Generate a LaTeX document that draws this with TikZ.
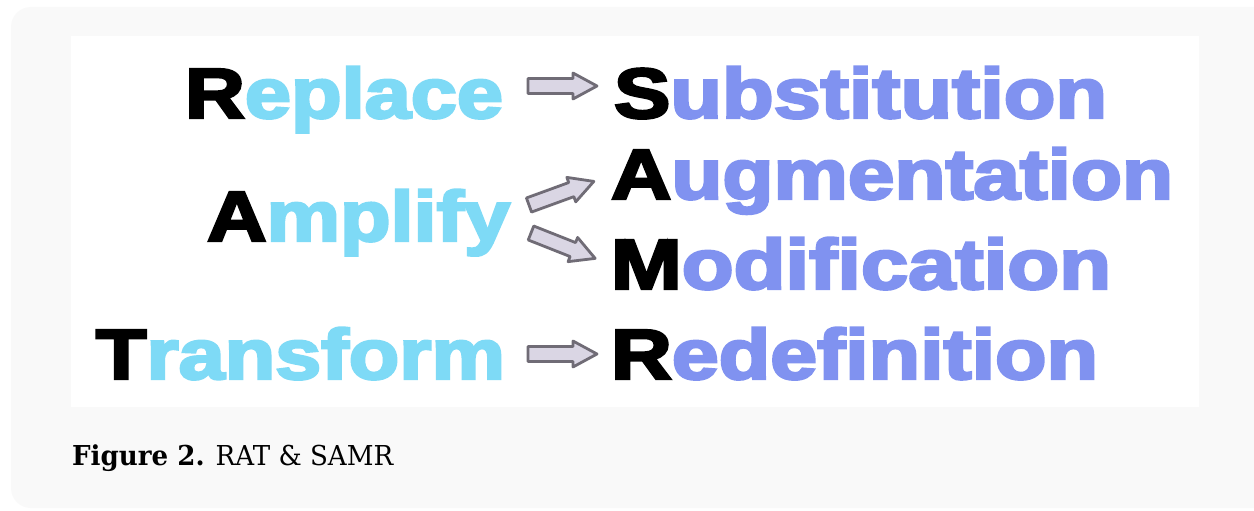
\documentclass[tikz,border=0pt]{standalone}
\usepackage{fontspec}
\usepackage{graphicx}
\newfontfamily\heavy{Liberation Sans}[BoldFeatures={FakeBold=3.5}]
\newfontfamily\capfont{DejaVu Serif}
\definecolor{ratcyan}{RGB}{126,218,246}
\definecolor{samrblue}{RGB}{128,146,240}
\definecolor{arrowfill}{RGB}{218,214,228}
\definecolor{arrowline}{RGB}{112,108,118}
\definecolor{panelgrey}{RGB}{249,249,249}
\newcommand{\wordfit}[3]{\resizebox{#1pt}{\height}{\heavy\bfseries\fontsize{71}{80}\selectfont{\color{black}#2}#3}}
\tikzset{
  ratword/.style={anchor=base west, inner sep=0pt, outer sep=0pt, text=ratcyan},
  samrword/.style={anchor=base west, inner sep=0pt, outer sep=0pt, text=samrblue},
  arrowsty/.style={fill=arrowfill, draw=arrowline, line width=2.8pt, line join=round},
  blockarrow/.pic={\draw[arrowsty] (0,-7.5) -- (45,-7.5) -- (45,-13) -- (69,0) -- (45,13) -- (45,7.5) -- (0,7.5) -- cycle;}
}
\begin{document}
\begin{tikzpicture}[x=1pt,y=-1pt]
\useasboundingbox (0,0) rectangle (1254,511);
\fill[white] (0,0) rectangle (1254,511);
\begin{scope}
\clip (0,0) rectangle (1254,511);
\fill[panelgrey, rounded corners=20pt] (11,7) rectangle (1275,508);
\end{scope}
\fill[white] (71,36) rectangle (1199,407);
% words
\node[ratword] (replace) at (185,118) {\wordfit{318}{R}{eplace}};
\node[samrword] (subst) at (614,118) {\wordfit{493}{S}{ubstitution}};
\node[ratword] (amplify) at (207,241) {\wordfit{303}{A}{mplify}};
\node[samrword] (augm) at (611,199) {\wordfit{562}{A}{ugmentation}};
\node[samrword] (modif) at (611,289) {\wordfit{500}{M}{odification}};
\node[ratword] (transform) at (96,379) {\wordfit{409}{T}{ransform}};
\node[samrword] (redef) at (611,379) {\wordfit{487}{R}{edefinition}};
% arrows
\coordinate (t1) at (528,86);
\coordinate (t2) at (529,205);
\coordinate (t3) at (531,233);
\coordinate (t4) at (528,354);
\pic at (t1) {blockarrow};
\pic[rotate=20] at (t2) {blockarrow};
\pic[rotate=-21.6] at (t3) {blockarrow};
\pic at (t4) {blockarrow};
% caption
\node[anchor=base west, inner sep=0pt] (caption) at (72,465) {\resizebox{321pt}{\height}{\capfont\fontsize{27.4}{30}\selectfont\textbf{Figure 2.} RAT \& SAMR}};
\end{tikzpicture}
\end{document}
